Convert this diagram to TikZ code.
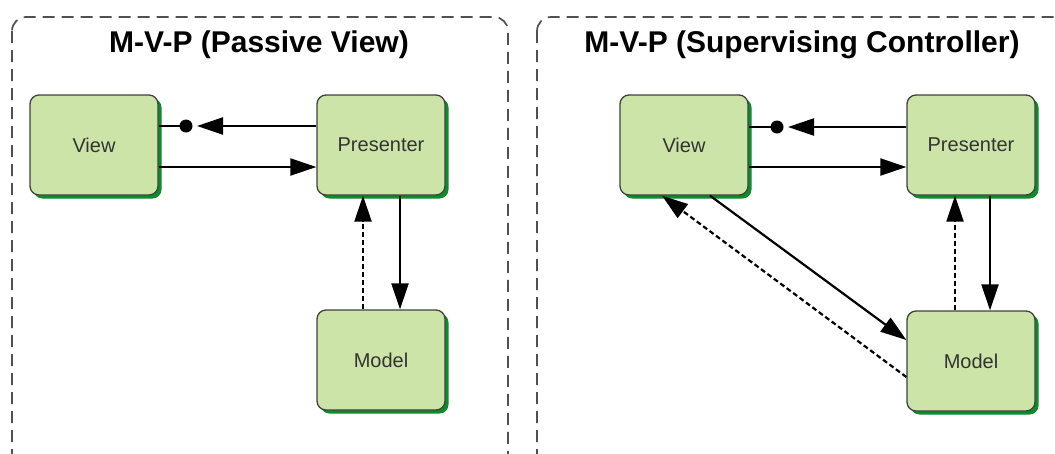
\documentclass[tikz,border=0pt]{standalone}
\usepackage{fontspec}
\setmainfont{Liberation Sans}
\usetikzlibrary{shadows,arrows.meta}
\definecolor{boxfill}{RGB}{205,228,168}
\definecolor{boxshadow}{RGB}{10,140,40}
\definecolor{frame}{RGB}{80,80,80}

\begin{document}
\begin{tikzpicture}[x=1pt, y=-1pt,
  part/.style={draw=black!75, line width=1.3pt, fill=boxfill, rounded corners=9pt,
    minimum width=128pt, minimum height=100pt, inner sep=0pt, font=\fontsize{20}{24}\selectfont, text=black!80,
    drop shadow={shadow xshift=3.5pt, shadow yshift=-3.5pt, fill=boxshadow, opacity=1}},
  panel/.style={draw=frame, line width=1.7pt, dash pattern=on 12pt off 7pt, rounded corners=14pt},
  title/.style={font=\bfseries\fontsize{30}{34}\selectfont},
  link/.style={line width=2.2pt, -{Triangle[length=26pt, width=17pt]}},
  weak/.style={link, dash pattern=on 5pt off 3pt}]
\useasboundingbox (0,0) rectangle (1055,453);
\clip (0,0) rectangle (1055,453);

\draw[panel] (12,17) rectangle (508,480);
\draw[panel] (537,17) rectangle (1080,480);
\node[title] (t1) at (259,45) {M-V-P (Passive View)};
\node[title] (t2) at (802,45) {M-V-P (Supervising Controller)};

\node[part] (lv) at (94,145) {View};
\node[part] (lp) at (381,145) {Presenter};
\node[part] (lm) at (381,360) {Model};

\node[part] (rv) at (684,145) {View};
\node[part] (rp) at (971,145) {Presenter};
\node[part] (rm) at (971,361) {Model};

\coordinate (ldot) at (186,126);
\draw[line width=2.2pt] (lv.east |- ldot) -- (ldot);
\fill (ldot) circle (6.5pt);
\draw[link] (lp.west |- ldot) -- ([xshift=11pt]ldot);
\draw[link] ([yshift=-22pt]lv.east) -- ([yshift=-22pt]lp.west);
\draw[weak] ([xshift=-18pt]lm.north) -- ([xshift=-18pt]lp.south);
\draw[link] ([xshift=19pt]lp.south) -- ([xshift=19pt]lm.north);

\coordinate (rdot) at (777,127);
\draw[line width=2.2pt] (rv.east |- rdot) -- (rdot);
\fill (rdot) circle (6.5pt);
\draw[link] (rp.west |- rdot) -- ([xshift=11pt]rdot);
\draw[link] ([yshift=-22pt]rv.east) -- ([yshift=-22pt]rp.west);
\draw[weak] ([xshift=-16pt]rm.north) -- ([xshift=-16pt]rp.south);
\draw[link] ([xshift=19pt]rp.south) -- ([xshift=19pt]rm.north);
\draw[link] ([xshift=26pt]rv.south) -- ([yshift=21pt]rm.west);
\draw[weak] ([yshift=-16pt]rm.west) -- ([xshift=-22pt]rv.south);
\end{tikzpicture}
\end{document}
